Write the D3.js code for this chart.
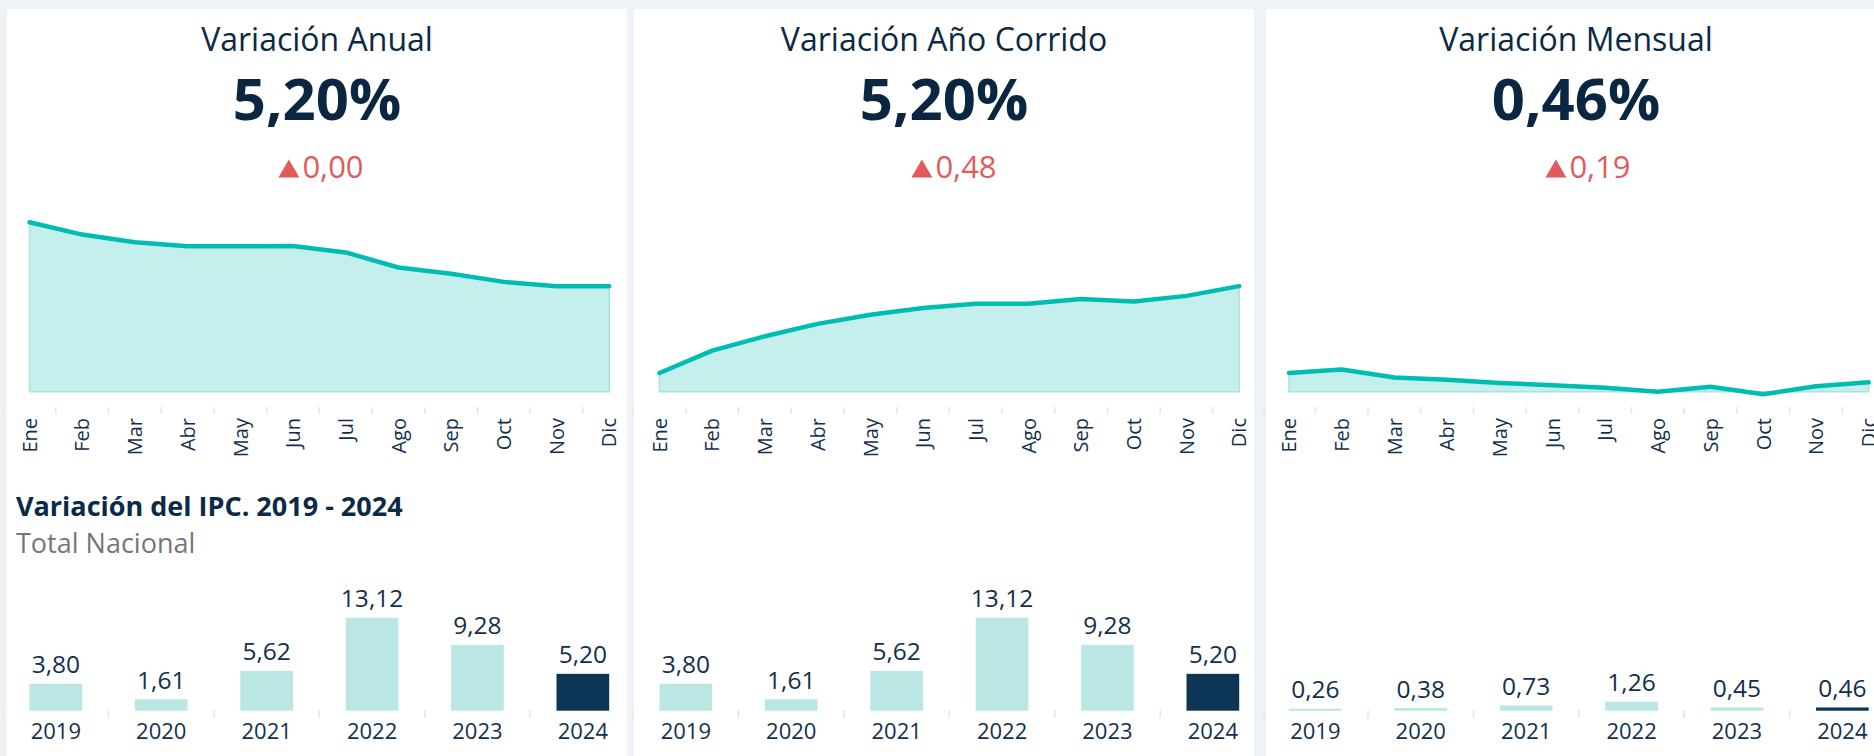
<!DOCTYPE html>
<html><head><meta charset="utf-8">
<script src="https://cdn.jsdelivr.net/npm/d3@7"></script>
<style>
html,body{margin:0;padding:0;background:#eef3f8;overflow:hidden}
svg{display:block;font-family:"Open Sans",sans-serif}
</style></head><body>
<svg id="c" width="1874" height="756"></svg>
<script>
// ---- data ----
const months = ["Ene","Feb","Mar","Abr","May","Jun","Jul","Ago","Sep","Oct","Nov","Dic"];
const anual2024 = [8.35, 7.74, 7.36, 7.16, 7.16, 7.18, 6.86, 6.12, 5.81, 5.41, 5.20, 5.20];
const corrido2024 = [0.92, 2.02, 2.73, 3.34, 3.79, 4.12, 4.33, 4.33, 4.57, 4.44, 4.72, 5.20];
const mensual2024 = [0.92, 1.09, 0.70, 0.59, 0.43, 0.32, 0.20, 0.00, 0.24, -0.13, 0.27, 0.46];
const years = ["2019","2020","2021","2022","2023","2024"];
const anualYears = [3.80, 1.61, 5.62, 13.12, 9.28, 5.20];
const corridoYears = [3.80, 1.61, 5.62, 13.12, 9.28, 5.20];
const mensualYears = [0.26, 0.38, 0.73, 1.26, 0.45, 0.46];
const titles = ["Variación Anual", "Variación Año Corrido", "Variación Mensual"];
const headline = [5.20, 5.20, 0.46];
const deltas = [0.00, 0.48, 0.19];
const sectionTitle = "Variación del IPC. 2019 - 2024";
const sectionSub = "Total Nacional";

// ---- style / layout ----
const C = {
  navy: "#0b2a45", text: "#12304d", red: "#e25b5c", teal: "#00bdb2",
  areaFill: "#c5efec", areaStroke: "#a8e4df", bar: "#bae6e4", barHi: "#0d3656",
  tick: "#e3e6e8", gray: "#767676"
};
const loc = d3.formatLocale({decimal: ",", thousands: ".", grouping: [3], currency: ["$", ""]});
const f2 = loc.format(".2f");

const panels = [
  {card: 7, x0: 29.5, dOff: 4, lines: anual2024, bars: anualYears},
  {card: 634, x0: 659.5, dOff: 10, lines: corrido2024, bars: corridoYears},
  {card: 1266, x0: 1289, dOff: 12, lines: mensual2024, bars: mensualYears}
];
const cardW = 620, step = 52.7;

const svg = d3.select("#c");
const yArea = d3.scaleLinear().domain([0, 9]).range([391.7, 391.7 - 9 * 20.3]);
const yBar = d3.scaleLinear().domain([0, 13.12]).range([710.7, 617.7]);

panels.forEach((p, i) => {
  const g = svg.append("g");
  const cx = p.card + cardW / 2;
  g.append("rect").attr("x", p.card).attr("y", 9).attr("width", cardW).attr("height", 760).attr("fill", "#fff");

  g.append("text").attr("x", cx).attr("y", 51).attr("text-anchor", "middle")
    .attr("font-size", 32).attr("fill", C.navy).text(titles[i]);
  g.append("text").attr("x", cx).attr("y", 120).attr("text-anchor", "middle")
    .attr("font-size", 58).attr("font-weight", 700).attr("fill", "#0a2640").text(f2(headline[i]) + "%");

  // delta
  const dg = g.append("g");
  dg.append("path").attr("d", "M0,0 L10.5,-18 L21,0 Z").attr("fill", C.red);
  const dt = dg.append("text").attr("x", 24).attr("y", 0).attr("font-size", 31).attr("fill", C.red).text(f2(deltas[i]));
  const tw = 24 + dt.node().getComputedTextLength();
  dg.attr("transform", `translate(${cx + p.dOff - tw / 2},177.5)`);

  // area chart
  const xm = d3.scaleBand().domain(months).range([p.x0 - step / 2, p.x0 - step / 2 + 12 * step]).padding(0);
  const pts = months.map((m, k) => ({m, v: p.lines[k]}));
  const area = d3.area().x(d => xm(d.m) + xm.bandwidth() / 2).y0(yArea(0)).y1(d => yArea(d.v));
  const line = d3.line().x(d => xm(d.m) + xm.bandwidth() / 2).y(d => yArea(d.v));
  g.append("path").datum(pts).attr("d", area).attr("fill", C.areaFill).attr("stroke", C.areaStroke).attr("stroke-width", 1.5);
  g.append("path").datum(pts).attr("d", line).attr("fill", "none").attr("stroke", C.teal)
    .attr("stroke-width", 4.5).attr("stroke-linejoin", "round").attr("stroke-linecap", "round");

  const bounds = months.map(m => xm(m)).concat([xm.range()[1]]);
  g.selectAll(".mt").data(bounds).join("line")
    .attr("x1", d => d).attr("x2", d => d).attr("y1", 407).attr("y2", 414)
    .attr("stroke", C.tick).attr("stroke-width", 1.5);
  const ax = g.append("g").attr("transform", "translate(0,418)")
    .call(d3.axisBottom(xm).tickSize(0).tickPadding(0));
  ax.select(".domain").remove();
  ax.selectAll("text").attr("transform", "rotate(-90)").attr("text-anchor", "end")
    .attr("x", 0).attr("y", 0).attr("dy", "0.36em")
    .attr("font-size", 20).attr("font-family", "Open Sans").attr("fill", C.text);

  // bar chart
  const xb = d3.scaleBand().domain(years).range([p.x0 - step / 2, p.x0 - step / 2 + 12 * step])
    .paddingInner(0.5).paddingOuter(0.25);
  const bd = years.map((y, k) => ({y, v: p.bars[k]}));
  g.selectAll(".bar").data(bd).join("rect")
    .attr("x", d => xb(d.y)).attr("width", xb.bandwidth())
    .attr("y", d => yBar(d.v)).attr("height", d => yBar(0) - yBar(d.v))
    .attr("fill", d => d.y === "2024" ? C.barHi : C.bar);
  g.selectAll(".bl").data(bd).join("text")
    .attr("x", d => xb(d.y) + xb.bandwidth() / 2).attr("y", d => yBar(d.v) - 10.5)
    .attr("text-anchor", "middle").attr("font-size", 24.5).attr("fill", C.text).text(d => f2(d.v));
  const r0 = xb.range()[0];
  g.selectAll(".bt").data(d3.range(7)).join("line")
    .attr("x1", k => r0 + k * xb.step()).attr("x2", k => r0 + k * xb.step())
    .attr("y1", 710).attr("y2", 718).attr("stroke", C.tick).attr("stroke-width", 1.5);
  const bx = g.append("g").attr("transform", "translate(0,739)")
    .call(d3.axisBottom(xb).tickSize(0).tickPadding(0));
  bx.select(".domain").remove();
  bx.selectAll("text").attr("y", 0).attr("dy", 0).attr("font-size", 22)
    .attr("font-family", "Open Sans").attr("fill", C.text);
});

svg.append("text").attr("x", 16).attr("y", 516).attr("font-size", 27).attr("font-weight", 700)
  .attr("fill", C.navy).text(sectionTitle);
svg.append("text").attr("x", 16).attr("y", 553).attr("font-size", 27)
  .attr("fill", C.gray).text(sectionSub);
</script>
</body></html>
